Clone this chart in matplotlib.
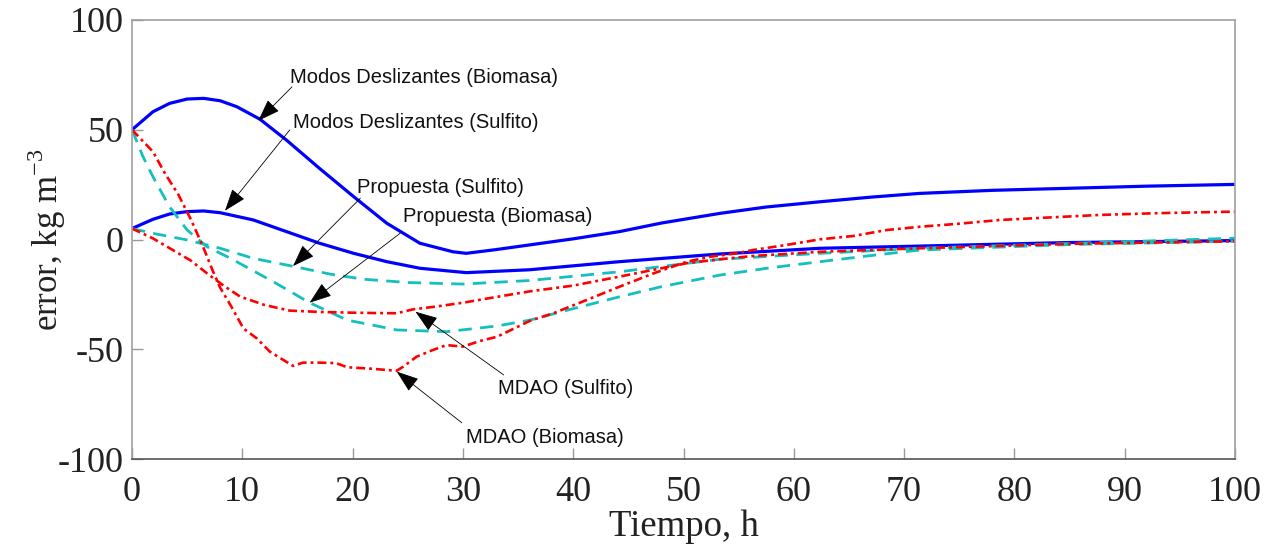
import matplotlib
matplotlib.use("Agg")
from matplotlib import pyplot as plt

plt.rcParams['font.family'] = ['Liberation Serif', 'DejaVu Serif']
plt.rcParams['mathtext.fontset'] = 'custom'
plt.rcParams['mathtext.rm'] = 'Liberation Serif'
plt.rcParams['axes.unicode_minus'] = False

# Modos Deslizantes (Biomasa) - azul continuo
md_bio_t = [0, 1.9, 3.4, 5.0, 6.5, 8.0, 9.5, 11.6, 14.0, 17.0, 20.1, 23.1,
            26.1, 29.1, 30.3, 33.0, 36.0, 40.0, 44.2, 48.0, 53.3, 57.5, 62.4,
            67.0, 71.4, 78.0, 84.7, 92.0, 100]
md_bio_e = [50, 58.2, 62.0, 64.0, 64.3, 63.2, 60.5, 54.8, 45.3, 32.4, 19.5, 7.4,
            -1.7, -5.6, -6.3, -4.6, -2.5, 0.3, 3.6, 7.5, 11.9, 14.8, 17.2,
            19.3, 21.0, 22.4, 23.3, 24.3, 25.1]

# Modos Deslizantes (Sulfito) - azul continuo
md_sul_t = [0, 1.9, 3.4, 5.0, 6.5, 8.0, 11.0, 14.0, 17.0, 20.1, 23.1, 26.1,
            30.3, 36.0, 44.2, 53.3, 62.4, 71.4, 84.7, 100]
md_sul_e = [5, 9.2, 11.6, 12.7, 13.0, 12.2, 8.9, 3.6, -1.7, -6.3, -10.1, -13.1,
            -15.1, -13.8, -10.1, -6.6, -4.0, -3.0, -1.4, -0.5]

# Propuesta (Sulfito) - cian discontinuo
pr_sul_t = [0, 1.9, 5.0, 8.0, 11.0, 14.6, 18.0, 21.0, 25.0, 30.0, 36.0,
            44.2, 53.3, 62.4, 71.4, 85.0, 100]
pr_sul_e = [5, 2.8, -0.2, -4.0, -8.6, -12.2, -15.8, -18.1, -19.6, -20.3, -18.7,
            -14.7, -9.0, -6.3, -4.0, -1.8, 0.6]

# Propuesta (Biomasa) - cian discontinuo
pr_bio_t = [0, 1.0, 1.9, 3.4, 5.0, 6.8, 8.9, 12.8, 16.1, 19.5, 24.0, 28.5,
            33.1, 36.1, 40.0, 44.2, 48.0, 53.3, 58.0, 62.4, 67.0, 71.4, 85.0, 100]
pr_bio_e = [50, 37.7, 28.6, 14.9, 4.3, -3.3, -8.5, -19.2, -28.8, -36.7, -41.2, -42.0,
            -39.4, -36.7, -31.5, -26.1, -21.5, -16.2, -12.8, -10.1, -7.3, -4.8, -2.3, -0.8]

# MDAO (Sulfito) - rojo punto y raya
mdao_sul_t = [0, 1.9, 3.7, 5.3, 6.9, 8.3, 9.8, 12.0, 14.3, 17.0, 19.5, 22.0,
              24.0, 25.5, 27.5, 30.0, 33.0, 36.1, 40.0, 44.2, 47.5, 50.3, 53.5,
              56.3, 62.4, 71.4, 85.0, 100]
mdao_sul_e = [5, 0.5, -4.8, -9.5, -15.8, -21.0, -26.0, -29.8, -32.4, -33.0, -33.3, -33.5,
              -33.6, -31.8, -30.6, -28.8, -26.2, -23.6, -21.0, -16.9, -13.6, -10.8, -8.9,
              -7.5, -5.6, -4.0, -2.0, -0.8]

# MDAO (Biomasa) - rojo punto y raya
mdao_bio_t = [0, 1.9, 3.0, 4.2, 5.4, 6.5, 7.3, 8.0, 9.0, 10.1, 11.3, 12.5, 13.6,
              14.6, 15.5, 17.0, 18.5, 19.5, 21.5, 24.0, 24.6, 25.8, 27.2, 28.5,
              30.0, 31.5, 33.1, 36.1, 38.2, 41.2, 44.2, 47.3, 50.3, 52.5, 54.8,
              56.3, 59.3, 62.4, 65.4, 68.4, 71.4, 75.0, 78.7, 83.0, 87.8, 93.0, 100]
mdao_bio_e = [50, 40.0, 30.0, 20.5, 8.5, -4.0, -14.0, -22.0, -30.5, -40.5, -45.0, -51.1, -54.5,
              -57.6, -56.1, -56.1, -56.3, -58.2, -58.8, -59.8, -57.9, -53.4, -50.5, -48.1,
              -48.8, -46.3, -44.3, -37.0, -33.6, -27.6, -21.5, -15.4, -10.1, -7.8, -6.3,
              -4.8, -2.5, 0.1, 1.6, 4.3, 5.8, 7.2, 8.9, 10.0, 11.2, 12.0, 12.7]

# anotaciones: texto, posicion del texto, cola y punta de la flecha
notas = [
    ("Modos Deslizantes (Biomasa)", (14.3, 73.6), (14.5, 69.5), (11.45, 54.1)),
    ("Modos Deslizantes (Sulfito)", (14.6, 53.1), (14.3, 49.9), (8.43, 13.1)),
    ("Propuesta (Sulfito)", (20.4, 23.5), (20.7, 18.8), (14.6, -12.1)),
    ("Propuesta (Biomasa)", (24.6, 10.3), (24.3, 2.8), (16.1, -28.8)),
    ("MDAO (Sulfito)", (33.2, -68.1), (33.7, -61.7), (25.7, -32.9)),
    ("MDAO (Biomasa)", (30.3, -90.0), (29.9, -83.5), (24.0, -60.2)),
]

fig = plt.figure(figsize=(12.75, 5.51), dpi=100)
ax = fig.add_axes([132 / 1275, 1 - 459 / 551, 1103 / 1275, 439 / 551])

azul = '#0000ff'
cian = '#14bfbf'
rojo = '#ff0000'

ax.plot(md_bio_t, md_bio_e, color=azul, lw=2.3)
ax.plot(md_sul_t, md_sul_e, color=azul, lw=2.3)
ax.plot(pr_sul_t, pr_sul_e, color=cian, lw=2.0, dashes=(4.8, 3.0))
ax.plot(pr_bio_t, pr_bio_e, color=cian, lw=2.0, dashes=(4.8, 3.0))
ax.plot(mdao_sul_t, mdao_sul_e, color=rojo, lw=1.9, dashes=(3.4, 1.5, 1.1, 1.5))
ax.plot(mdao_bio_t, mdao_bio_e, color=rojo, lw=1.9, dashes=(3.4, 1.5, 1.1, 1.5))

for texto, pos, cola, punta in notas:
    ax.text(pos[0], pos[1], texto, family=['Liberation Sans', 'DejaVu Sans'],
            fontsize=14.5, ha='left', va='center', color='#111111')
    ax.annotate('', xy=punta, xytext=cola,
                arrowprops=dict(arrowstyle='-|>,head_length=0.7,head_width=0.25',
                                color='black', lw=0.6,
                                mutation_scale=20, shrinkA=0, shrinkB=0))

ax.set_xlim(0, 100)
ax.set_ylim(-100, 100)
ax.set_xticks(range(0, 101, 10))
ax.set_yticks([-100, -50, 0, 50, 100])
ax.tick_params(direction='in', length=8, width=1, colors='#999999',
               labelcolor='#222222', labelsize=26, pad=6)
ax.tick_params(axis='x', pad=12)

for lado in ['top', 'right', 'left']:
    ax.spines[lado].set_color('#a0a0a0')
ax.spines['bottom'].set_color('#555555')
for lado in ax.spines:
    ax.spines[lado].set_linewidth(1.2)

ax.set_xlabel('Tiempo, h', fontsize=26.5, color='#222222')
ax.set_ylabel(r'error, kg m$^{\mathregular{-3}}$', fontsize=25, color='#222222')
ax.xaxis.set_label_coords(0.5, -0.115)
ax.yaxis.set_label_coords(-0.058, 0.5)

plt.savefig('out.png', dpi=100)
